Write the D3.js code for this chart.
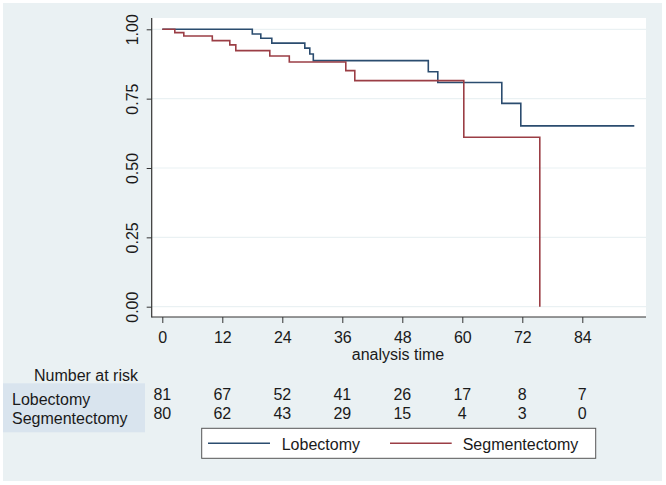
<!DOCTYPE html>
<html>
<head>
<meta charset="utf-8">
<script src="https://cdn.jsdelivr.net/npm/d3@7"></script>
<style>
  body { margin: 0; background: #fff; }
  text { font-family: Arial, "Liberation Sans", sans-serif; fill: #1a1a1a; }
</style>
</head>
<body>
<script>
'use strict';

// Kaplan-Meier estimates (months, survival)
var lobTime = [0, 18.0, 19.7, 21.9, 28.5, 29.5, 30.2, 53.2, 55.1, 67.9, 71.7, 94.4];
var lobSurv = [1, 0.983, 0.968, 0.950, 0.932, 0.911, 0.887, 0.847, 0.808, 0.733, 0.652, 0.652];

var segTime = [0, 2.5, 4.3, 10.0, 13.5, 14.7, 21.5, 25.4, 36.7, 38.5, 60.3, 75.5];
var segSurv = [1, 0.988, 0.976, 0.959, 0.944, 0.923, 0.904, 0.882, 0.851, 0.815, 0.611, 0];

var xTicks = [0, 12, 24, 36, 48, 60, 72, 84];
var yTicks = [0, 0.25, 0.5, 0.75, 1];

var groups  = ['Lobectomy', 'Segmentectomy'];
var lobRisk = [81, 67, 52, 41, 26, 17, 8, 7];
var segRisk = [80, 62, 43, 29, 15, 4, 3, 0];

var colors = ['#2b4c6f', '#9b3e45'];

var width  = 666;
var height = 485;

var plot = {left: 151.7, right: 646, top: 18, bottom: 317};

var svg = d3.select('body').append('svg')
    .attr('width', width)
    .attr('height', height);

// graph region
svg.append('rect')
    .attr('x', 3).attr('y', 3)
    .attr('width', 659).attr('height', 478)
    .attr('fill', '#eaf1f3');

// plot region
svg.append('rect')
    .attr('x', plot.left).attr('y', plot.top)
    .attr('width', plot.right - plot.left).attr('height', plot.bottom - plot.top)
    .attr('fill', '#ffffff');

var x = d3.scaleLinear().domain([0, 84]).range([162.3, 582.3]);
var y = d3.scaleLinear().domain([0, 1]).range([306.7, 29.3]);

// grid lines
svg.append('g').selectAll('line')
    .data(yTicks)
  .enter().append('line')
    .attr('x1', plot.left).attr('x2', plot.right)
    .attr('y1', function(d) { return y(d); })
    .attr('y2', function(d) { return y(d); })
    .attr('stroke', '#eaf1f3')
    .attr('stroke-width', 1.2);

// axes
var yAxis = svg.append('g')
    .attr('transform', 'translate(' + plot.left + ',0)')
    .call(d3.axisLeft(y).tickValues(yTicks).tickFormat(d3.format('.2f')).tickSize(5));

yAxis.select('.domain').remove();
yAxis.selectAll('line').attr('stroke', '#333');
yAxis.selectAll('text')
    .attr('x', 0).attr('y', 0).attr('dy', null)
    .attr('transform', 'translate(-13.5,0) rotate(-90)')
    .attr('text-anchor', 'middle')
    .style('font-size', '16px')
    .style('font-family', 'Arial, "Liberation Sans", sans-serif')
    .attr('fill', '#1a1a1a');

var xAxis = svg.append('g')
    .attr('transform', 'translate(0,' + plot.bottom + ')')
    .call(d3.axisBottom(x).tickValues(xTicks).tickSize(6));

xAxis.select('.domain').remove();
xAxis.selectAll('line').attr('stroke', '#333');
xAxis.selectAll('text')
    .attr('y', 26).attr('dy', null)
    .style('font-size', '16px')
    .style('font-family', 'Arial, "Liberation Sans", sans-serif')
    .attr('fill', '#1a1a1a');

svg.append('line')
    .attr('x1', plot.left).attr('x2', plot.left)
    .attr('y1', plot.top).attr('y2', plot.bottom + 0.5)
    .attr('stroke', '#333').attr('stroke-width', 1.2);
svg.append('line')
    .attr('x1', plot.left).attr('x2', plot.right)
    .attr('y1', plot.bottom).attr('y2', plot.bottom)
    .attr('stroke', '#333').attr('stroke-width', 1.2);

svg.append('text')
    .attr('x', 398).attr('y', 359.5)
    .attr('text-anchor', 'middle')
    .style('font-size', '16px')
    .text('analysis time');

// survival curves
var line = d3.line()
    .x(function(d) { return x(d[0]); })
    .y(function(d) { return y(d[1]); })
    .curve(d3.curveStepAfter);

var curves = [d3.zip(lobTime, lobSurv), d3.zip(segTime, segSurv)];

svg.append('g').selectAll('path')
    .data(curves)
  .enter().append('path')
    .attr('d', line)
    .attr('fill', 'none')
    .attr('stroke', function(d, i) { return colors[i]; })
    .attr('stroke-width', 1.6);

// number at risk table
svg.append('text')
    .attr('x', 138).attr('y', 381)
    .attr('text-anchor', 'end')
    .style('font-size', '16px')
    .text('Number at risk');

svg.append('rect')
    .attr('x', 3).attr('y', 383.3)
    .attr('width', 142).attr('height', 49)
    .attr('fill', '#d9e4ee');

var risk = [lobRisk, segRisk];
var rowLabelY = [404.5, 423.5];
var rowNumY   = [400, 419];

svg.append('g').selectAll('text')
    .data(groups)
  .enter().append('text')
    .attr('x', 12)
    .attr('y', function(d, i) { return rowLabelY[i]; })
    .style('font-size', '16px')
    .text(function(d) { return d; });

risk.forEach(function(row, r) {
  svg.append('g').selectAll('text')
      .data(row)
    .enter().append('text')
      .attr('x', function(d, i) { return x(xTicks[i]); })
      .attr('y', rowNumY[r])
      .attr('text-anchor', 'middle')
      .style('font-size', '16px')
      .text(function(d) { return d; });
});

// legend
svg.append('rect')
    .attr('x', 201.7).attr('y', 428.3)
    .attr('width', 394).attr('height', 30)
    .attr('fill', '#fff')
    .attr('stroke', '#555')
    .attr('stroke-width', 1);

var legendX = [[208, 270, 281.7], [390, 451.7, 462.7]];

groups.forEach(function(g, i) {
  svg.append('line')
      .attr('x1', legendX[i][0]).attr('x2', legendX[i][1])
      .attr('y1', 443.3).attr('y2', 443.3)
      .attr('stroke', colors[i])
      .attr('stroke-width', 1.6);
  svg.append('text')
      .attr('x', legendX[i][2]).attr('y', 450)
      .style('font-size', '16px')
      .text(g);
});
</script>
</body>
</html>
